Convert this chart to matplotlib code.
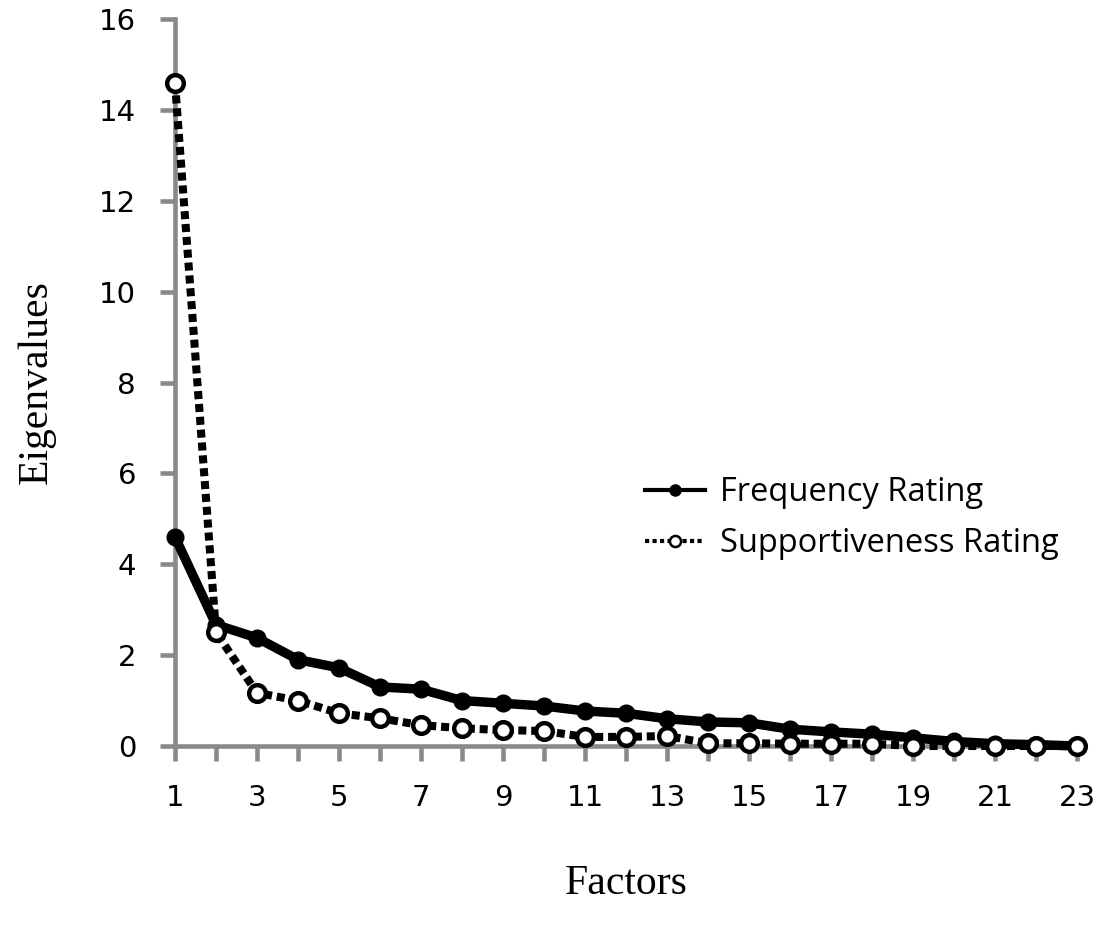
import numpy as np
import matplotlib.pyplot as plt
from matplotlib.lines import Line2D

factors = np.arange(1, 24)
frequency = [4.6, 2.67, 2.38, 1.9, 1.72, 1.3, 1.25, 1.0, 0.94, 0.88, 0.77, 0.72,
             0.6, 0.53, 0.51, 0.37, 0.31, 0.26, 0.18, 0.1, 0.05, 0.03, 0.0]
supportiveness = [14.6, 2.5, 1.17, 1.0, 0.72, 0.61, 0.46, 0.39, 0.35, 0.33, 0.2, 0.2,
                  0.22, 0.06, 0.06, 0.05, 0.05, 0.05, 0.0, 0.0, 0.0, 0.0, 0.0]
x_labels = [str(f) if f % 2 == 1 else '' for f in factors]
y_ticks = [0, 2, 4, 6, 8, 10, 12, 14, 16]

gray = '#898989'
plt.rcParams['font.family'] = 'DejaVu Sans'

fig = plt.figure(figsize=(11.08, 9.26), dpi=100)
ax = fig.add_axes([175/1108, 1-746/926, (1077-175)/1108, (746-19)/926])

ax.plot(factors, frequency, color='black', lw=6.8, marker='o', ms=12,
        mfc='black', mec='black', solid_joinstyle='round', zorder=3, clip_on=False)
ax.plot(factors, supportiveness, color='black', lw=5.8, dashes=(1.0, 0.6),
        dash_capstyle='butt', marker='o', ms=12, mfc='white', mec='black', mew=3.2,
        zorder=4, clip_on=False)

ax.set_xlim(1, 23)
ax.set_ylim(0, 16)
ax.set_xticks(factors)
ax.set_xticklabels(x_labels)
ax.set_yticks(y_ticks)

for s in ['top', 'right']:
    ax.spines[s].set_visible(False)
for s in ['left', 'bottom']:
    ax.spines[s].set_color(gray)
    ax.spines[s].set_linewidth(3.3)
    ax.spines[s].set_zorder(1)
ax.tick_params(axis='both', direction='out', color=gray, width=3.3, length=11,
               labelsize=21, labelcolor='black')
ax.tick_params(axis='y', pad=17)
ax.tick_params(axis='x', pad=16)
for lbl in ax.get_xticklabels() + ax.get_yticklabels():
    lbl.set_family('DejaVu Sans')

ax.set_xlabel('Factors', family='Liberation Serif', fontsize=30, labelpad=38)
ax.set_ylabel('Eigenvalues', family='Liberation Serif', fontsize=30, labelpad=31)

handles = [
    Line2D([], [], color='black', lw=3, marker='o', ms=8, mfc='black', mec='black'),
    Line2D([], [], color='black', lw=3, dashes=(1.0, 0.8), marker='o', ms=8,
           mfc='white', mec='black', mew=1.8),
]
fig.legend(handles, ['Frequency Rating', 'Supportiveness Rating'],
           loc='upper left', bbox_to_anchor=(645/1108, 1-476/926),
           frameon=False, prop={'family': 'Open Sans', 'size': 23.5},
           borderpad=0, borderaxespad=0, handlelength=1.85, handletextpad=0.45,
           labelspacing=0.55)

fig.savefig('out.png', dpi=100)
